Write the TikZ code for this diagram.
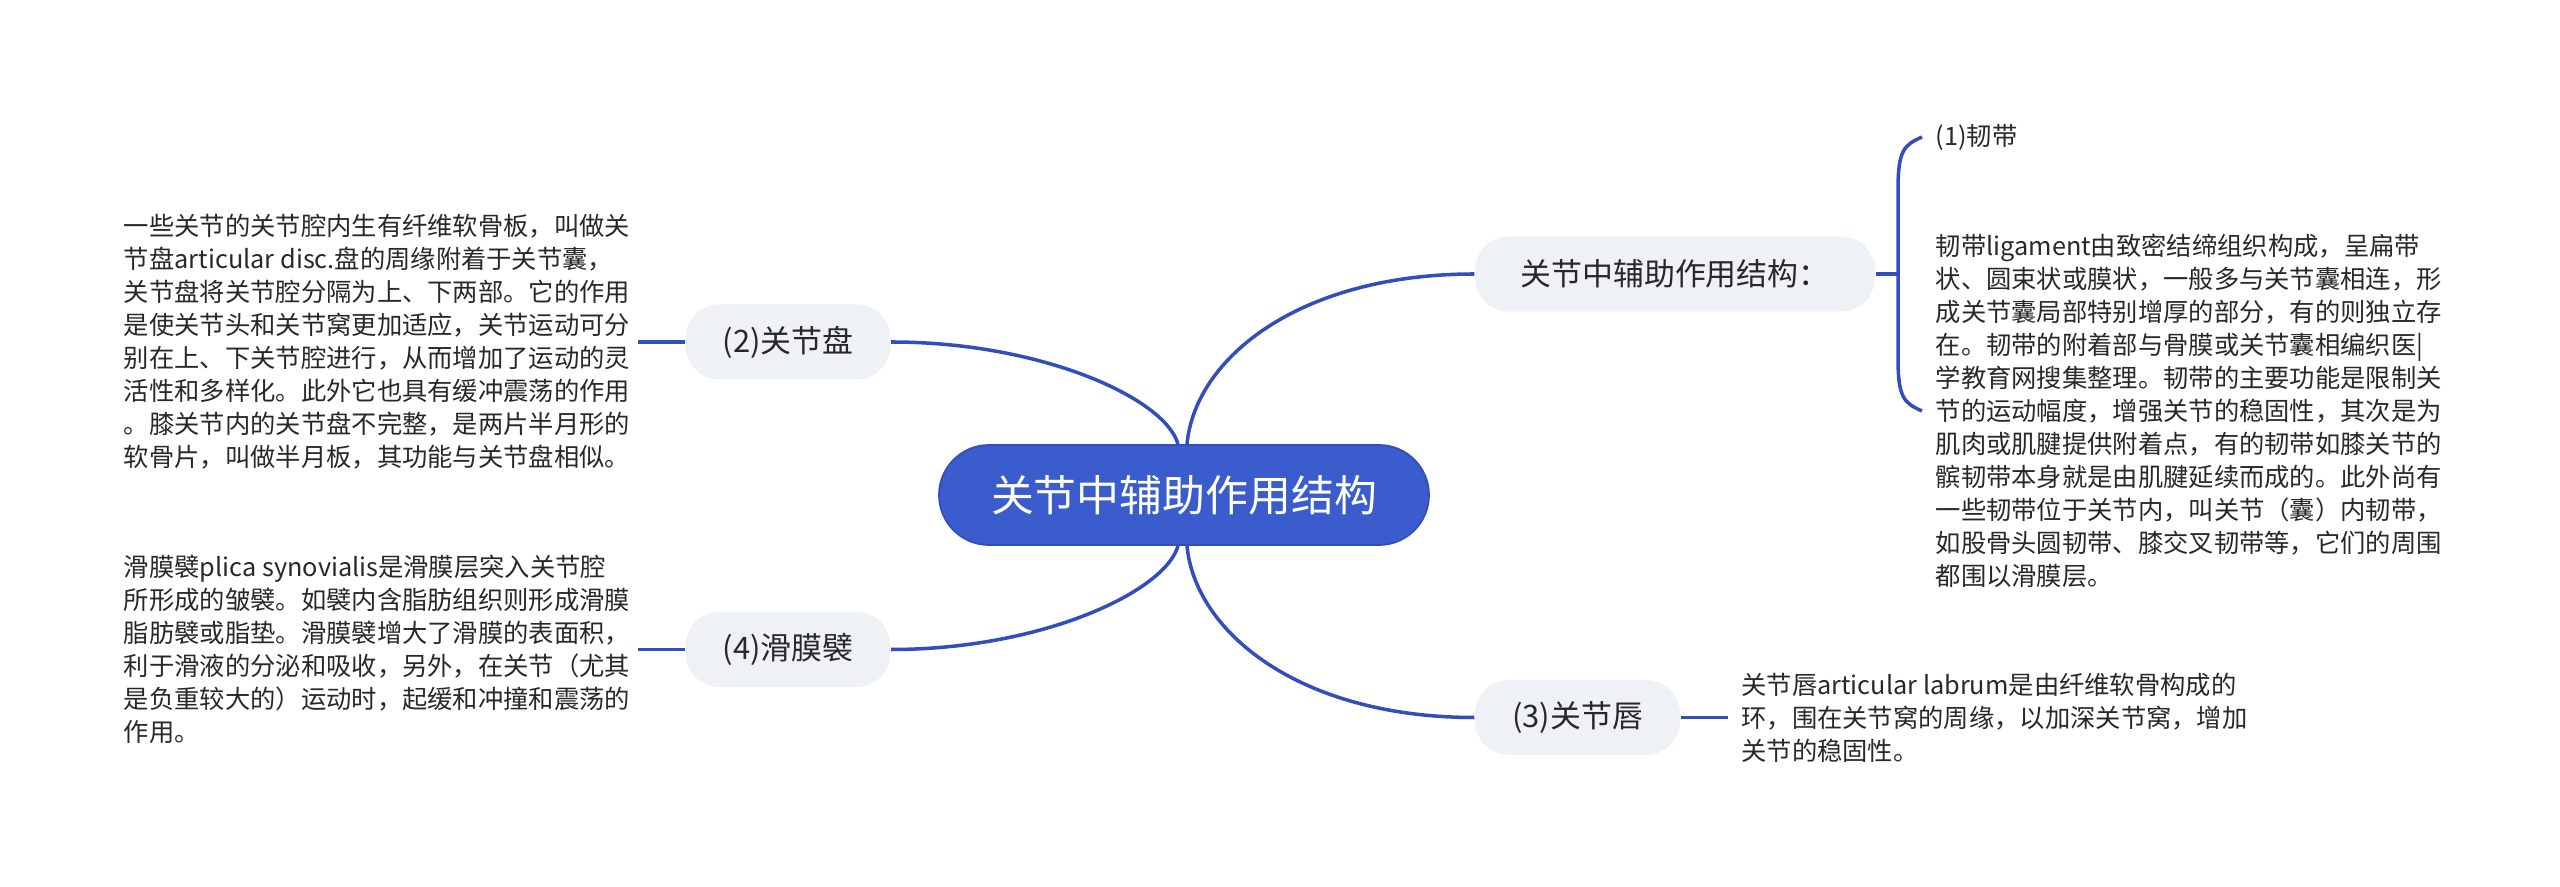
\documentclass[tikz,border=0pt]{standalone}
\usepackage{fontspec}
\setmainfont{Noto Sans CJK SC}
\usetikzlibrary{positioning,calc}
\definecolor{mmBlue}{RGB}{58,92,204}
\definecolor{mmLine}{RGB}{50,78,188}
\definecolor{mmFill}{RGB}{238,241,245}
\definecolor{mmText}{RGB}{40,40,40}

\begin{document}
\begin{tikzpicture}[
  font=\fontsize{7.2pt}{9.4pt}\selectfont,
  root/.style={fill=mmBlue, draw=mmLine, line width=0.5pt, text=white, rounded corners=0.5cm, minimum width=4.9cm, minimum height=1cm, font=\fontsize{12.2pt}{14pt}\selectfont},
  topic/.style={fill=mmFill, text=mmText, rounded corners=0.34cm, minimum width=2.05cm, minimum height=0.75cm, inner xsep=0.3cm, font=\fontsize{8.8pt}{10pt}\selectfont},
  desc/.style={text=mmText, align=left, inner xsep=0.07cm, inner ysep=0pt},
  link/.style={draw=mmLine, line width=1pt},
]
\useasboundingbox (0,0) rectangle (25.6,-8.87);
% root and main topics
\node[root] (ctr) at (11.84,-4.95) {关节中辅助作用结构};
\node[topic] (disc) at (7.88,-3.42) {(2)关节盘};
\node[topic] (plica) at (7.88,-6.495) {(4)滑膜襞};
\node[topic, minimum width=4cm] (rel) at (16.75,-2.74) {关节中辅助作用结构：};
\node[topic] (labrum) at (15.775,-7.175) {(3)关节唇};
\draw[link] ([xshift=-0.06cm]ctr.north) .. controls +(-0.13,0.46) and +(1.5,0) .. (disc.east);
\draw[link] ([xshift=0.03cm]ctr.north) .. controls +(0.08,0.86) and +(-1.75,0) .. (rel.west);
\draw[link] ([xshift=-0.06cm]ctr.south) .. controls +(-0.13,-0.46) and +(1.5,0) .. (plica.east);
\draw[link] ([xshift=0.03cm]ctr.south) .. controls +(0.08,-0.86) and +(-1.75,0) .. (labrum.west);
% left texts
\node[desc, left=0.47cm of disc] (disctext) {一些关节的关节腔内生有纤维软骨板，叫做关\\
节盘articular disc.盘的周缘附着于关节囊，\\
关节盘将关节腔分隔为上、下两部。它的作用\\
是使关节头和关节窝更加适应，关节运动可分\\
别在上、下关节腔进行，从而增加了运动的灵\\
活性和多样化。此外它也具有缓冲震荡的作用\\
。膝关节内的关节盘不完整，是两片半月形的\\
软骨片，叫做半月板，其功能与关节盘相似。};
\node[desc, left=0.47cm of plica] (plicatext) {滑膜襞plica synovialis是滑膜层突入关节腔\\
所形成的皱襞。如襞内含脂肪组织则形成滑膜\\
脂肪襞或脂垫。滑膜襞增大了滑膜的表面积，\\
利于滑液的分泌和吸收，另外，在关节（尤其\\
是负重较大的）运动时，起缓和冲撞和震荡的\\
作用。};
\draw[link] (disc.west) -- (disctext.east);
\draw[link] (plica.west) -- (plicatext.east);
% right texts
\node[desc, anchor=west, inner xsep=0.13cm] (lig) at (19.22,-1.37) {(1)韧带};
\node[desc, anchor=west, inner xsep=0.13cm] (ligtext) at (19.22,-4.11) {韧带ligament由致密结缔组织构成，呈扁带\\
状、圆束状或膜状，一般多与关节囊相连，形\\
成关节囊局部特别增厚的部分，有的则独立存\\
在。韧带的附着部与骨膜或关节囊相编织医|\\
学教育网搜集整理。韧带的主要功能是限制关\\
节的运动幅度，增强关节的稳固性，其次是为\\
肌肉或肌腱提供附着点，有的韧带如膝关节的\\
髌韧带本身就是由肌腱延续而成的。此外尚有\\
一些韧带位于关节内，叫关节（囊）内韧带，\\
如股骨头圆韧带、膝交叉韧带等，它们的周围\\
都围以滑膜层。};
\coordinate (brk) at (18.98,-2.74);
\draw[link] (rel.east) -- (brk);
\draw[link] (lig.west) .. controls +(-0.18,-0.08) and +(0,0.4) .. ($(brk)+(0,0.84)$) -- ($(brk)+(0,-0.84)$) .. controls +(0,-0.4) and +(-0.18,0.08) .. (ligtext.west);
\node[desc, right=0.47cm of labrum, inner xsep=0.13cm] (labtext) {关节唇articular labrum是由纤维软骨构成的\\
环，围在关节窝的周缘，以加深关节窝，增加\\
关节的稳固性。};
\draw[link] (labrum.east) -- (labtext.west);
\end{tikzpicture}
\end{document}
